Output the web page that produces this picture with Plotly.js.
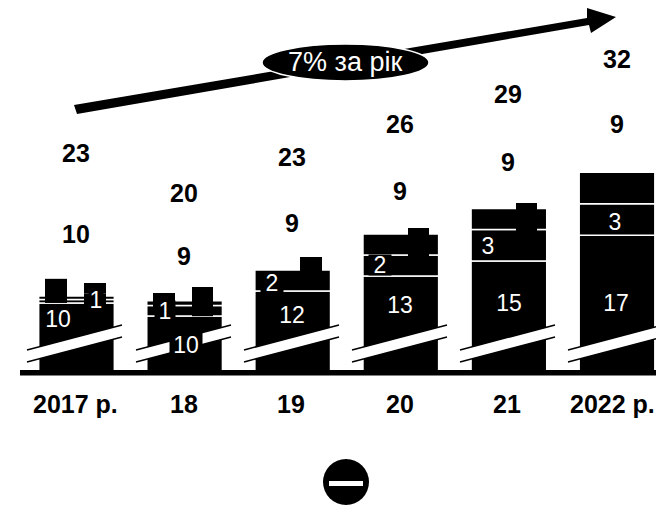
<!DOCTYPE html>
<html>
<head>
<meta charset="utf-8">
<script src="https://cdn.plot.ly/plotly-3.0.1.min.js"></script>
<style>html,body{margin:0;padding:0;background:#fff}</style>
</head>
<body>
<div id="chart"></div>
<script>
// Yearly values
const years = ['2017', '2018', '2019', '2020', '2021', '2022'];
const yearLabels = ['2017 р.', '18', '19', '20', '21', '2022 р.'];
const totals = [23, 20, 23, 26, 29, 32];
const upperValues = [10, 9, 9, 9, 9, 9];
const baseValues = [10, 10, 12, 13, 15, 17];
const middleValues = [null, 1, 2, 2, 3, 3];
const topValues = [null, null, null, 2, 2, 3];
const tabLabelledValue = [1];

// Units of each column hidden by the axis break
const hiddenAtBreak = [3.14, 4.38, 4, 3.57, 4.14, 3.7];

// Thin ribs on the two shortest columns
const ribLowerValues = [0.33, 0.45];
const ribUpperValues = [0.33];

// Small unlabelled tabs on the column tops
const tabYears = ['2017', '2018', '2018', '2019', '2020', '2021', '2017'];
const tabHeights = [2.3, 1.41, 2.78, 2.67, 3.52, 3.52, 1.56];
const tabBases = [6.86, 6.4, 5.6, 8.57, 10.48, 12.86, 6.2];

// Layout geometry, in page pixels
const W = 656, H = 505, AXIS_PX = 375, PX_PER_UNIT = 10.5;
const CENTER0 = 76.5, STEP = 108.1;
const tabLeftPx = [45, 153, 192, 300, 408, 516, 84];
const tabWidthPx = [22, 22, 21, 22, 21, 21, 22];

const px = x => x / W;
const py = y => (AXIS_PX - y) / AXIS_PX;
const center = cat => CENTER0 + STEP * years.indexOf(cat);

const font = {family: '"Liberation Sans", Arial, sans-serif'};
const barStyle = {color: '#000', line: {color: '#fff', width: 1.5}};
const solidStyle = {color: '#000', line: {width: 0}};

const sum = (...arrs) => years.map((_, i) => arrs.reduce((a, r) => a + (r[i] || 0), 0));
const cutBase = (...arrs) => sum(...arrs).map((v, i) => v - hiddenAtBreak[i]);

const traces = [
  {type: 'bar', name: 'base', x: years, y: baseValues, base: cutBase(), width: 0.7, marker: barStyle},
  {type: 'bar', name: 'middle', x: years, y: middleValues, base: cutBase(baseValues), width: 0.7, marker: barStyle},
  {type: 'bar', name: 'top', x: years, y: topValues, base: cutBase(baseValues, middleValues), width: 0.7, marker: barStyle},
  {type: 'bar', name: 'rib', x: ['2017', '2018'], y: ribLowerValues,
   base: [cutBase(baseValues)[0], cutBase(baseValues, middleValues)[1]], width: 0.7, marker: barStyle},
  {type: 'bar', name: 'rib', x: ['2017'], y: ribUpperValues,
   base: [cutBase(baseValues)[0] + ribLowerValues[0]], width: 0.7, marker: barStyle},
  {type: 'bar', name: 'tab', x: tabYears, y: tabHeights, base: tabBases,
   width: tabWidthPx.map(w => w / STEP),
   offset: tabYears.map((c, i) => (tabLeftPx[i] - center(c)) / STEP), marker: solidStyle},
  {type: 'bar', name: 'tab', x: ['2017'], y: tabLabelledValue, base: [tabBases[6] + tabHeights[6]],
   width: [tabWidthPx[6] / STEP], offset: [(tabLeftPx[6] - center('2017')) / STEP], marker: solidStyle}
];

// Slanted break marks across the columns
const breakLeftPx = [27, 136, 244, 352, 460, 568];
const breakShapes = [];
breakLeftPx.forEach(x0 => {
  const x1 = x0 + 95;
  breakShapes.push({type: 'path', xref: 'paper', yref: 'paper', line: {width: 0}, fillcolor: '#fff',
    path: `M${px(x0)},${py(350)} L${px(x1)},${py(325)} L${px(x1)},${py(337)} L${px(x0)},${py(362)} Z`});
  [[350, 325], [362, 337]].forEach(([a, b]) => breakShapes.push({type: 'line', xref: 'paper', yref: 'paper',
    x0: px(x0), y0: py(a), x1: px(x1), y1: py(b), line: {color: '#000', width: 1.5}}));
});

const shapes = [
  {type: 'rect', xref: 'paper', yref: 'paper', x0: px(20), x1: px(656), y0: py(370), y1: py(375.5),
   fillcolor: '#000', line: {width: 0}},
  ...breakShapes,
  // Growth arrow
  {type: 'path', xref: 'paper', yref: 'paper', fillcolor: '#000', line: {width: 0},
   path: `M${px(74)},${py(105)} L${px(587)},${py(18)} L${px(587)},${py(8)} L${px(616)},${py(17)} ` +
         `L${px(591)},${py(33)} L${px(589)},${py(25)} L${px(77)},${py(114)} Z`},
  {type: 'circle', xref: 'paper', yref: 'paper', x0: px(262), x1: px(429), y0: py(81), y1: py(44),
   fillcolor: '#000', line: {color: '#fff', width: 1.5}},
  // Round sign below the chart
  {type: 'circle', xref: 'paper', yref: 'paper', x0: px(323), x1: px(369), y0: py(505), y1: py(459),
   fillcolor: '#000', line: {width: 0}},
  {type: 'rect', xref: 'paper', yref: 'paper', x0: px(329), x1: px(363), y0: py(486), y1: py(481),
   fillcolor: '#fff', line: {width: 0}}
];

// Text helpers
const boldLabel = (t, x, y) => ({text: String(t), xref: 'paper', yref: 'paper', x: px(x), y: py(y),
  xanchor: 'center', yanchor: 'middle', showarrow: false,
  font: {...font, size: 25, weight: 700, color: '#000'}});
const innerLabel = (t, x, y, w, h) => ({text: String(t), xref: 'paper', yref: 'paper', x: px(x), y: py(y),
  xanchor: 'center', yanchor: 'middle', showarrow: false, borderpad: 0, bgcolor: '#000',
  width: w, height: h, font: {...font, size: 23, color: '#fff'}});

const totalY = [153, 193, 157, 124, 94, 59];
const totalX = [76, 184, 292, 400, 508, 617];
const upperY = [234, 256, 223, 191, 162, 124];
const yearLabelX = [75, 184, 291, 400, 507, 612];
const YEAR_LABEL_Y = 404;

const annotations = [
  ...totals.map((v, i) => boldLabel(v, totalX[i], totalY[i])),
  ...upperValues.map((v, i) => boldLabel(v, totalX[i], upperY[i])),
  ...yearLabels.map((t, i) => boldLabel(t, yearLabelX[i], YEAR_LABEL_Y)),
  innerLabel(baseValues[0], 58, 319, 28, 20),
  innerLabel(tabLabelledValue[0], 96, 300, 14, 20),
  innerLabel(middleValues[1], 165, 311, 20, 20),
  innerLabel(baseValues[1], 186, 345, 32, 24),
  innerLabel(middleValues[2], 272, 283, 22, 20),
  innerLabel(baseValues[2], 292, 315, 30, 22),
  innerLabel(middleValues[3], 380, 265, 22, 20),
  innerLabel(baseValues[3], 400, 305, 30, 22),
  innerLabel(middleValues[4], 488, 246, 18, 20),
  innerLabel(baseValues[4], 509, 303, 30, 22),
  innerLabel(middleValues[5], 615, 222, 18, 20),
  innerLabel(baseValues[5], 616, 303, 30, 22),
  {text: '7% за рік', xref: 'paper', yref: 'paper', x: px(345), y: py(62), xanchor: 'center', yanchor: 'middle',
   showarrow: false, font: {...font, size: 27, color: '#fff'}}
];

const layout = {
  width: W, height: H, autosize: false, showlegend: false, barmode: 'overlay',
  paper_bgcolor: '#fff', plot_bgcolor: '#fff',
  margin: {l: 0, r: 0, t: 0, b: H - AXIS_PX, pad: 0},
  xaxis: {type: 'category', categoryorder: 'array', categoryarray: years,
    range: [-CENTER0 / STEP, (W - CENTER0) / STEP], showticklabels: false, ticks: '',
    showline: false, showgrid: false, zeroline: false},
  yaxis: {range: [0, AXIS_PX / PX_PER_UNIT], visible: false, showgrid: false, zeroline: false},
  shapes, annotations
};

Plotly.newPlot('chart', traces, layout, {displayModeBar: false, responsive: false});
</script>
</body>
</html>
